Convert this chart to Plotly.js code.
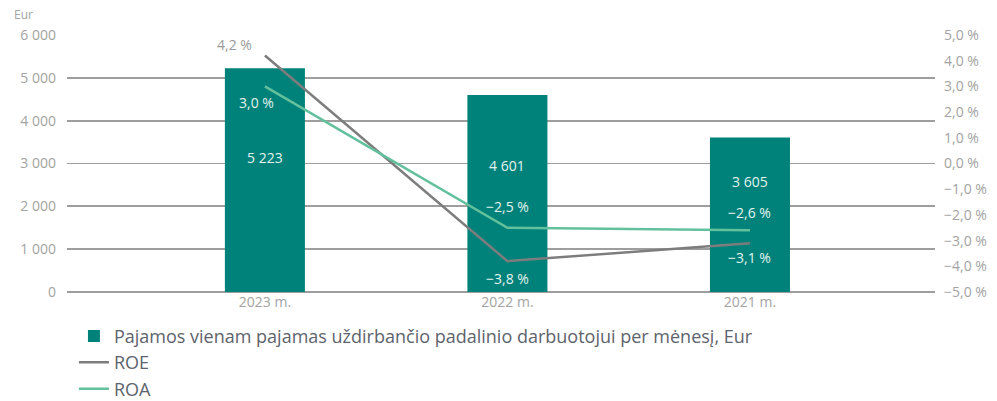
<!DOCTYPE html>
<html>
<head>
<meta charset="utf-8">
<script src="https://cdn.plot.ly/plotly-3.0.1.min.js"></script>
<style>html,body{margin:0;padding:0;background:#fff;}#chart{width:997px;height:401px;}</style>
</head>
<body>
<div id="chart"></div>
<script>
const categories = ["2023 m.", "2022 m.", "2021 m."];
const income = [5223, 4601, 3605];
const roe = [4.2, -3.8, -3.1];
const roa = [3.0, -2.5, -2.6];
const incomeLabels = ["5 223", "4 601", "3 605"];
const roeLabels = ["4,2 %", "\u22123,8 %", "\u22123,1 %"];
const roaLabels = ["3,0 %", "\u22122,5 %", "\u22122,6 %"];
const seriesNames = ["Pajamos vienam pajamas uždirbančio padalinio darbuotojui per mėnesį, Eur", "ROE", "ROA"];

// label placement (layout only)
const incomeLabelY = [3150, 2965, 2570];
const roeLabelShift = [[-30, 11], [0, -17], [0, -14]];
const roaLabelShift = [[-8, -16], [0, 21], [0, 18]];

const teal = "#00827a", gray = "#7d7d7d", green = "#62c19c";
const fam = "'Open Sans', Lato, sans-serif";
const tickFont = {family: fam, size: 14, color: "#a3a3a3"};

const traces = [
  {type: "bar", x: categories, y: income, name: seriesNames[0], marker: {color: teal}, width: 0.33, yaxis: "y", hoverinfo: "none"},
  {type: "scatter", mode: "lines", x: categories, y: roe, name: seriesNames[1], line: {color: gray, width: 2.5}, yaxis: "y2"},
  {type: "scatter", mode: "lines", x: categories, y: roa, name: seriesNames[2], line: {color: green, width: 2.5}, yaxis: "y2"}
];

const annotations = [];
categories.forEach((c, i) => {
  annotations.push({x: c, y: incomeLabelY[i], xref: "x", yref: "y", text: incomeLabels[i], showarrow: false,
    font: {family: fam, size: 14, color: "#e3f2ef"}});
  annotations.push({x: c, y: roe[i], xref: "x", yref: "y2", text: roeLabels[i], showarrow: false,
    xshift: roeLabelShift[i][0], yshift: roeLabelShift[i][1],
    font: {family: fam, size: 14, color: i === 0 ? "#9a9a9a" : "#e3f2ef"}});
  annotations.push({x: c, y: roa[i], xref: "x", yref: "y2", text: roaLabels[i], showarrow: false,
    xshift: roaLabelShift[i][0], yshift: roaLabelShift[i][1],
    font: {family: fam, size: 14, color: "#e3f2ef"}});
});
annotations.push({x: 0, y: 1, xref: "paper", yref: "paper", xanchor: "right", yanchor: "bottom", xshift: -32, yshift: 10,
  text: "Eur", showarrow: false, font: {family: fam, size: 12, color: "#a3a3a3"}});

const layout = {
  width: 997, height: 401,
  margin: {l: 67, r: 62, t: 35, b: 109, autoexpand: false},
  paper_bgcolor: "#fff", plot_bgcolor: "#fff",
  separators: ", ",
  showlegend: true,
  legend: {orientation: "v", x: 0.008, y: -0.1, xanchor: "left", yanchor: "top",
    font: {family: fam, size: 18, color: "#5d636c"}, tracegroupgap: 0, itemwidth: 30, bgcolor: "rgba(0,0,0,0)"},
  xaxis: {type: "category", range: [-0.816, 2.763], showgrid: false, zeroline: false, showline: false,
    ticks: "", tickfont: tickFont},
  yaxis: {range: [0, 6000], dtick: 1000, tickformat: ",d", showgrid: true, gridcolor: "#9e9e9e", gridwidth: 1.8,
    zeroline: true, zerolinecolor: "#9e9e9e", zerolinewidth: 1.8, showline: false, ticks: "", ticklabelstandoff: 10, tickfont: tickFont},
  yaxis2: {overlaying: "y", side: "right", range: [-5, 5], dtick: 1, tickformat: ".1f", ticksuffix: " %",
    showgrid: false, zeroline: false, showline: false, ticks: "", ticklabelstandoff: 8, tickfont: tickFont},
  annotations: annotations
};

Plotly.newPlot("chart", traces, layout, {displayModeBar: false, staticPlot: true});
</script>
</body>
</html>
